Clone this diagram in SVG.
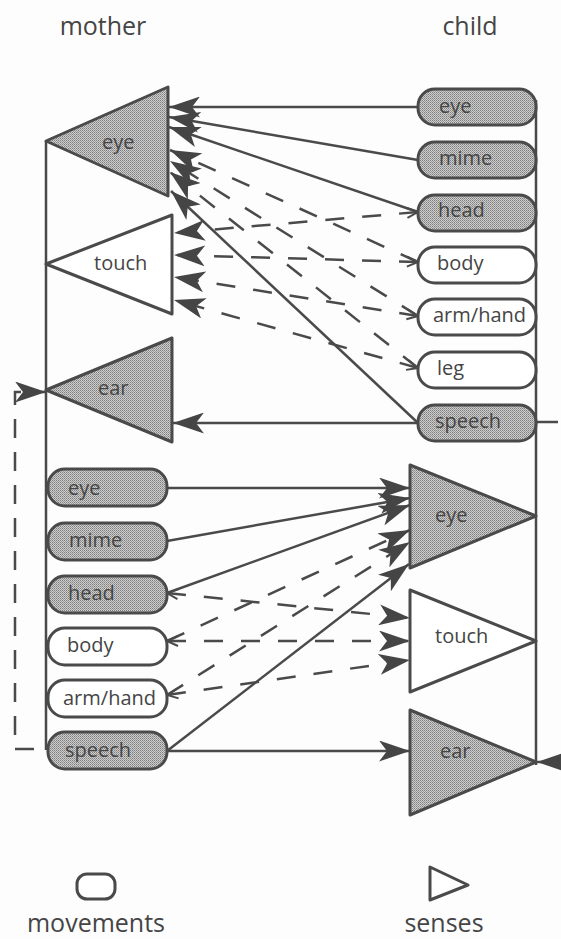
<svg xmlns="http://www.w3.org/2000/svg" width="561" height="939" viewBox="0 0 561 939">
<defs>
<pattern id="stip" width="2" height="2" patternUnits="userSpaceOnUse">
<rect width="2" height="2" fill="#cdcdcd"/>
<rect width="1" height="1" fill="#7e7e7e"/>
<rect x="1" y="1" width="1" height="1" fill="#9a9a9a"/>
</pattern>
<marker id="ah" viewBox="0 0 31 21" refX="31" refY="10.5" markerWidth="31" markerHeight="21" markerUnits="userSpaceOnUse" orient="auto">
<path d="M31,10.5 L0,0 L8,10.5 L0,21 Z" fill="#454545" stroke="none"/>
</marker>
<marker id="vt" viewBox="-2 -8 14 16" refX="0" refY="0" markerWidth="14" markerHeight="16" markerUnits="userSpaceOnUse" orient="auto">
<path d="M11,-5 L0,0 L11,5" fill="none" stroke="#4a4a4a" stroke-width="2"/>
</marker>
<style>
.ln{fill:none;stroke:#4a4a4a;stroke-width:2.5}
.ds{fill:none;stroke:#4a4a4a;stroke-width:2.5;stroke-dasharray:19 18}
.lp{stroke-dasharray:19 14}
.ar{marker-end:url(#ah)}
.vs{marker-start:url(#vt)}
.sh{stroke:#4a4a4a;stroke-width:3;stroke-linejoin:round}
.f{fill:url(#stip)}
.w{fill:#fff}
.t{font-family:"Open Sans","DejaVu Sans",sans-serif;font-size:20px;fill:#454545}
.h{font-family:"Open Sans","DejaVu Sans",sans-serif;font-size:25px;fill:#454545}
</style>
</defs>
<rect width="561" height="939" fill="#fdfdfd"/>
<text class="h" x="103" y="35" text-anchor="middle">mother</text>
<text class="h" x="470" y="35" text-anchor="middle">child</text>

<g id="axes">
<path class="ln" d="M46,141 V750"/>
<path class="ln" d="M536,100 V765"/>
</g>

<g id="connectors">
<path class="ln ar" d="M418,107 H169"/>
<path class="ln ar" d="M418,160 L169,117"/>
<path class="ln ar" d="M418,212 L169,127"/>
<path class="ln ar" d="M418,423 L171,191"/>
<path class="ln ar" d="M418,423 H173"/>
<path class="ln" d="M536,422 H558"/>
<path class="ds ar vs" d="M418,212 L174,233"/>
<path class="ds ar vs" d="M418,262 L174,255"/>
<path class="ds ar vs" d="M418,316 L174,277"/>
<path class="ds ar vs" d="M418,368 L174,300"/>
<path class="ds ar" d="M418,262 L170,150"/>
<path class="ds ar" d="M418,316 L170,161"/>
<path class="ds ar" d="M418,368 L170,172"/>
<path class="ln ar" d="M167,488 H410"/>
<path class="ln ar" d="M167,541 L410,498"/>
<path class="ln ar" d="M167,593 L410,505"/>
<path class="ln ar" d="M167,751 L409,564"/>
<path class="ln ar" d="M167,751 H410"/>
<path class="ds ar vs" d="M167,593 L410,618"/>
<path class="ds ar vs" d="M167,641 L410,641"/>
<path class="ds ar vs" d="M167,695 L410,660"/>
<path class="ds ar" d="M167,641 L410,530"/>
<path class="ds ar" d="M167,695 L410,542"/>
<path class="ds lp ar" d="M46,749 H15 V392 H46" stroke-dashoffset="-12"/>
<path class="ln ar" d="M561,762 H537"/>
</g>

<g id="mother-eye-sense"><polygon class="sh f" points="46,141 168,87 168,196"/><text class="t" x="102" y="149">eye</text></g>
<g id="mother-touch-sense"><polygon class="sh w" points="46,264 172,215 172,314"/><text class="t" x="94" y="270">touch</text></g>
<g id="mother-ear-sense"><polygon class="sh f" points="46,390 172,338 172,442"/><text class="t" x="98" y="395">ear</text></g>

<g id="child-eye-move"><rect class="sh f" x="418" y="89" width="118" height="36" rx="17"/><text class="t" x="439" y="113">eye</text></g>
<g id="child-mime-move"><rect class="sh f" x="418" y="142" width="118" height="36" rx="17"/><text class="t" x="439" y="165">mime</text></g>
<g id="child-head-move"><rect class="sh f" x="418" y="195" width="118" height="36" rx="17"/><text class="t" x="438" y="217">head</text></g>
<g id="child-body-move"><rect class="sh w" x="418" y="247" width="118" height="36" rx="17"/><text class="t" x="437" y="270">body</text></g>
<g id="child-armhand-move"><rect class="sh w" x="418" y="299" width="118" height="36" rx="17"/><text class="t" x="433" y="322">arm/hand</text></g>
<g id="child-leg-move"><rect class="sh w" x="418" y="352" width="118" height="36" rx="17"/><text class="t" x="437" y="375">leg</text></g>
<g id="child-speech-move"><rect class="sh f" x="418" y="405" width="118" height="36" rx="17"/><text class="t" x="435" y="428">speech</text></g>

<g id="mother-eye-move"><rect class="sh f" x="48" y="469" width="119" height="37" rx="17"/><text class="t" x="68" y="495">eye</text></g>
<g id="mother-mime-move"><rect class="sh f" x="48" y="523" width="119" height="37" rx="17"/><text class="t" x="69" y="547">mime</text></g>
<g id="mother-head-move"><rect class="sh f" x="48" y="576" width="119" height="37" rx="17"/><text class="t" x="68" y="600">head</text></g>
<g id="mother-body-move"><rect class="sh w" x="48" y="628" width="119" height="37" rx="17"/><text class="t" x="67" y="652">body</text></g>
<g id="mother-armhand-move"><rect class="sh w" x="48" y="680" width="119" height="37" rx="17"/><text class="t" x="63" y="705">arm/hand</text></g>
<g id="mother-speech-move"><rect class="sh f" x="48" y="732" width="119" height="37" rx="17"/><text class="t" x="65" y="757">speech</text></g>

<g id="child-eye-sense"><polygon class="sh f" points="410,465 410,568 536,516"/><text class="t" x="435" y="522">eye</text></g>
<g id="child-touch-sense"><polygon class="sh w" points="410,590 410,692 536,641"/><text class="t" x="435" y="643">touch</text></g>
<g id="child-ear-sense"><polygon class="sh f" points="410,710 410,815 536,762"/><text class="t" x="440" y="758">ear</text></g>

<g id="legend">
<rect class="sh w" x="77" y="874" width="38" height="25" rx="10"/>
<text class="h" x="96" y="932" text-anchor="middle">movements</text>
<polygon class="sh w" points="430,867 430,900 468,885"/>
<text class="h" x="444" y="932" text-anchor="middle">senses</text>
</g>
</svg>
